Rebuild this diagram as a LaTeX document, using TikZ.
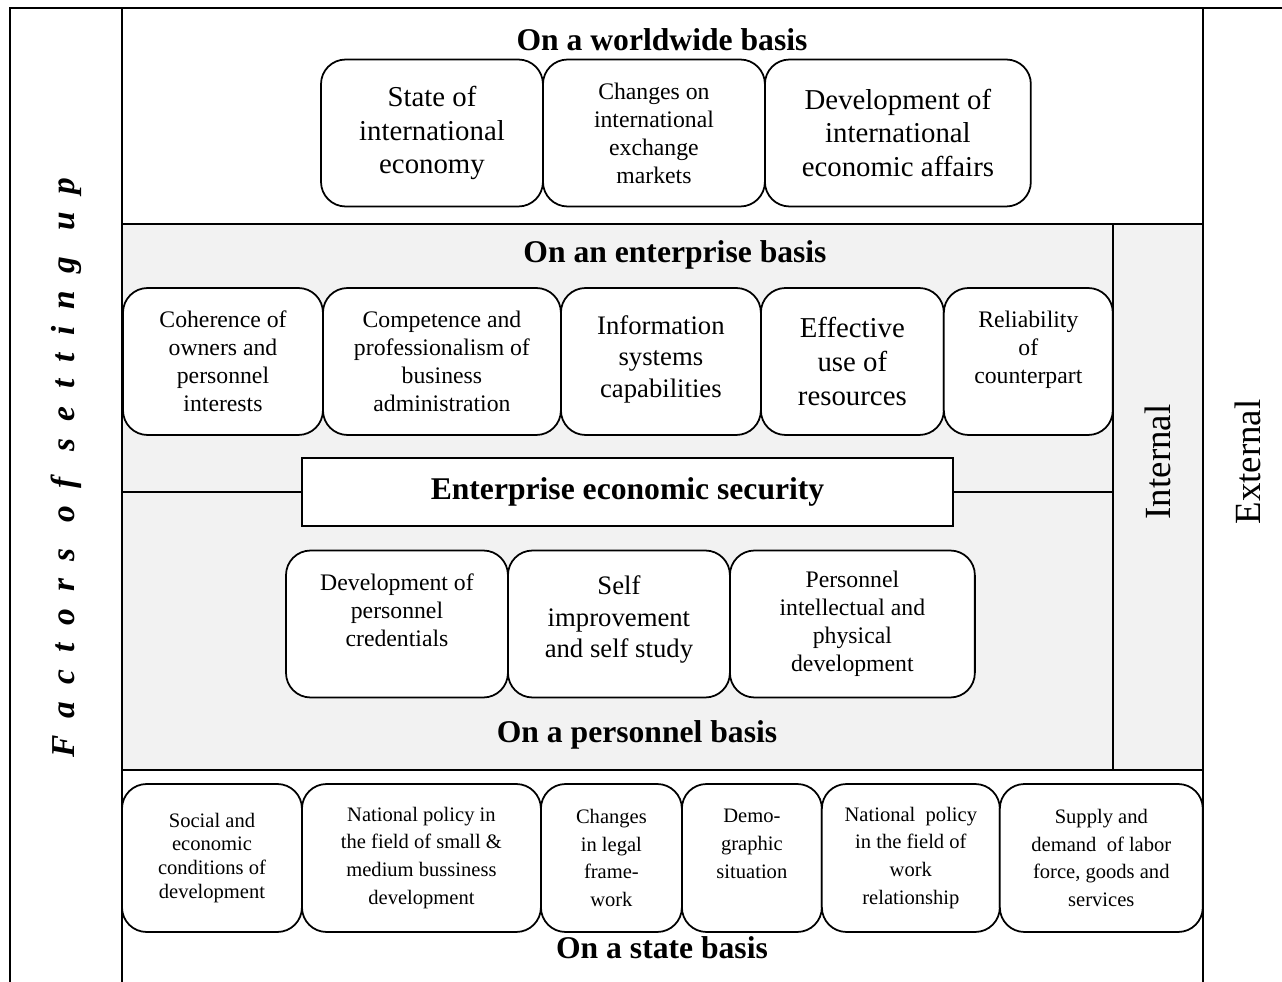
\documentclass[tikz,border=0pt]{standalone}
\usepackage{fontspec}
\setmainfont{Liberation Serif}
\newfontfamily\spacedfont[LetterSpace=52]{Liberation Serif}
\usetikzlibrary{positioning}

\begin{document}
\begin{tikzpicture}[
            x=0.02cm, y=-0.02cm,
            line width=1pt,
            factor/.style={rectangle, draw, rounded corners=14pt, fill=white, align=center, inner sep=0pt, outer sep=0pt, minimum height=2.94cm},
            bigtext/.style={font=\fontsize{16.4}{19.3}\selectfont},
            midtext/.style={font=\fontsize{15.2}{18}\selectfont},
            smalltext/.style={font=\fontsize{13.5}{15.9}\selectfont},
            statetext/.style={font=\fontsize{11.7}{15.9}\selectfont},
            basis/.style={font=\fontsize{18}{21}\selectfont\bfseries},
            side/.style={rotate=90, font=\fontsize{21}{25}\selectfont}
        ]
        \useasboundingbox (0,0) rectangle (1282,982);
        \fill[black!5] (122,224) rectangle (1203,770);
        \draw (10,982) -- (10,8) -- (1282,8);
        \draw (122,8) -- (122,982);
        \draw (1203,8) -- (1203,982);
        \draw (122,224) -- (1203,224);
        \draw (122,770) -- (1203,770);
        \draw (1113,224) -- (1113,770);

        \node[basis] (world) at (662,40) {On a worldwide basis};
        \node[factor, bigtext, minimum width=4.44cm, anchor=west] (stateeco) at (321,133) {State of\\international\\economy};
        \node[factor, smalltext, minimum width=4.44cm, right=0pt of stateeco] (exchange) {Changes on\\international\\exchange\\markets};
        \node[factor, bigtext, minimum width=5.32cm, right=0pt of exchange] (affairs) {Development of\\international\\economic affairs};

        \node[basis] (enterprise) at (675,255) {On an enterprise basis};
        \node[factor, smalltext, minimum width=4cm, anchor=west] (coherence) at (123,361.5) {Coherence of\\owners and\\personnel\\interests};
        \node[factor, smalltext, minimum width=4.76cm, right=0pt of coherence] (competence) {Competence and\\professionalism of\\business\\administration};
        \node[factor, midtext, minimum width=4cm, right=0pt of competence] (infosys) {Information\\systems\\capabilities\\[-12pt]\mbox{}};
        \node[factor, bigtext, minimum width=3.66cm, right=0pt of infosys] (resources) {Effective\\use of\\resources};
        \node[factor, smalltext, minimum width=3.38cm, right=0pt of resources] (counterpart) {Reliability\\of\\counterpart\\\mbox{}};

        \node[draw, fill=white, basis, inner sep=0pt, minimum width=13.02cm, minimum height=1.36cm] (security) at (627.5,492) {Enterprise economic security};
        \coordinate (midleft) at (122,492);
        \coordinate (midright) at (1113,492);
        \draw (midleft) -- (security.west);
        \draw (security.east) -- (midright);

        \node[factor, smalltext, minimum width=4.44cm, anchor=west] (credentials) at (286,624) {Development of\\personnel\\credentials\\\mbox{}};
        \node[factor, midtext, minimum width=4.44cm, right=0pt of credentials] (selfstudy) {Self\\improvement\\and self study\\[-10pt]\mbox{}};
        \node[factor, smalltext, minimum width=4.9cm, right=0pt of selfstudy] (physical) {Personnel\\intellectual and\\physical\\development};
        \node[basis] (personnel) at (637,735) {On a personnel basis};

        \node[factor, statetext, font=\fontsize{11.7}{13.6}\selectfont, minimum width=3.6cm, minimum height=2.96cm, anchor=west] (social) at (122,858) {Social and\\economic\\conditions of\\development};
        \node[factor, statetext, minimum width=4.78cm, minimum height=2.96cm, right=0pt of social] (smallbiz) {National policy in\\the field of small \&\\medium bussiness\\development};
        \node[factor, statetext, minimum width=2.82cm, minimum height=2.96cm, right=0pt of smallbiz] (legal) {Changes\\in legal\\frame-\\work};
        \node[factor, statetext, minimum width=2.8cm, minimum height=2.96cm, right=0pt of legal] (demo) {Demo-\\graphic\\situation\\\mbox{}};
        \node[factor, statetext, minimum width=3.56cm, minimum height=2.96cm, right=0pt of demo] (workrel) {National\ \ policy\\in the field of\\work\\relationship};
        \node[factor, statetext, minimum width=4.06cm, minimum height=2.96cm, right=0pt of workrel] (labor) {Supply and\\demand\ \ of labor\\force, goods and\\services};
        \node[basis] (statebasis) at (662,948) {On a state basis};

        \node[rotate=90, font=\fontsize{19}{23}\spacedfont\bfseries\itshape] (factors) at (66,468) {Factors of setting up};
        \node[side] (internal) at (1158,462) {Internal};
        \node[side] (external) at (1248,462) {External};
        \end{tikzpicture}
\end{document}
